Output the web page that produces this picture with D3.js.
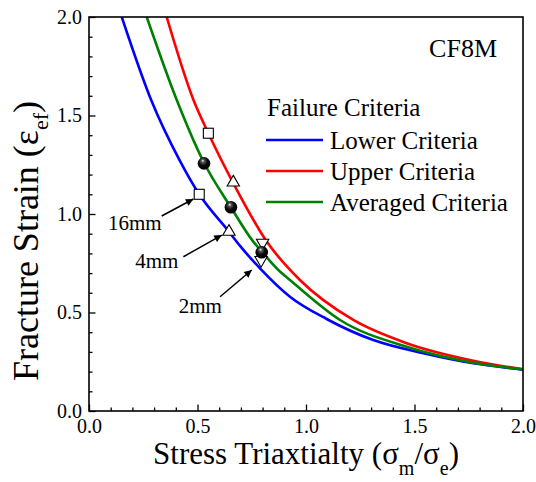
<!DOCTYPE html>
<html>
<head>
<meta charset="utf-8">
<script src="https://cdn.jsdelivr.net/npm/d3@7"></script>
<style>
  body { margin: 0; background: #fff; }
  svg text { font-family: "Liberation Serif", "Times New Roman", serif; fill: #000; }
</style>
</head>
<body>
<div id="chart"></div>
<script>
// curves: [stress triaxiality, fracture strain]
var lowerCriteria = [
  [0.151, 2.00], [0.286, 1.58], [0.419, 1.27], [0.508, 1.10], [0.645, 0.91],
  [0.696, 0.838], [0.788, 0.724], [0.926, 0.58], [1.095, 0.467], [1.31, 0.36],
  [1.541, 0.293], [1.771, 0.242], [2.0, 0.21]
];
var upperCriteria = [
  [0.358, 2.00], [0.481, 1.58], [0.55, 1.41], [0.673, 1.14], [0.819, 0.86],
  [0.972, 0.665], [1.218, 0.462], [1.464, 0.344], [1.771, 0.255], [2.0, 0.212]
];
var averagedCriteria = [
  [0.266, 2.00], [0.404, 1.58], [0.53, 1.26], [0.654, 1.034], [0.757, 0.86],
  [0.796, 0.81], [0.88, 0.708], [0.926, 0.665], [1.157, 0.462], [1.464, 0.326],
  [1.771, 0.245], [2.0, 0.211]
];

// test points
var squarePoints = [[0.550, 1.41], [0.508, 1.10]];
var upTrianglePoints = [[0.665, 1.16], [0.645, 0.91]];
var downTrianglePoints = [[0.800, 0.854], [0.793, 0.766]];
var spherePoints = [[0.530, 1.257], [0.654, 1.034], [0.796, 0.806]];

// notch labels: text corner and arrow, in data units
var notchLabels = [
  { text: "16mm", at: [0.335, 0.919], from: [0.335, 0.990], to: [0.481, 1.076] },
  { text: "4mm", at: [0.412, 0.724], from: [0.435, 0.783], to: [0.612, 0.893] },
  { text: "2mm", at: [0.612, 0.496], from: [0.604, 0.580], to: [0.750, 0.716] }
];

var seriesNames = ["Lower Criteria", "Upper Criteria", "Averaged Criteria"];
var seriesColors = ["#0000ff", "#ff0000", "#008000"];
var majorTicks = [0, 0.5, 1.0, 1.5, 2.0];

var WIDTH = 536, HEIGHT = 482;
var plotLeft = 89, plotRight = 523, plotTop = 17, plotBottom = 411;

var svg = d3.select("#chart").append("svg")
    .attr("width", WIDTH)
    .attr("height", HEIGHT);

var x = d3.scaleLinear().domain([0, 2]).range([plotLeft, plotRight]);
var y = d3.scaleLinear().domain([0, 2]).range([plotBottom, plotTop]);

var defs = svg.append("defs");
defs.append("clipPath").attr("id", "plot-clip")
  .append("rect")
    .attr("x", plotLeft).attr("y", plotTop)
    .attr("width", plotRight - plotLeft).attr("height", plotBottom - plotTop);

var grad = defs.append("radialGradient")
    .attr("id", "ball")
    .attr("cx", "45%").attr("cy", "40%").attr("r", "60%")
    .attr("fx", "40%").attr("fy", "28%");
grad.append("stop").attr("offset", "0%").attr("stop-color", "#eeeeee");
grad.append("stop").attr("offset", "22%").attr("stop-color", "#555");
grad.append("stop").attr("offset", "55%").attr("stop-color", "#0a0a0a");
grad.append("stop").attr("offset", "100%").attr("stop-color", "#000");

defs.append("marker")
    .attr("id", "arrow")
    .attr("viewBox", "0 0 10 10")
    .attr("refX", 10).attr("refY", 5)
    .attr("markerWidth", 6).attr("markerHeight", 5)
    .attr("markerUnits", "strokeWidth")
    .attr("orient", "auto")
  .append("path")
    .attr("d", "M0,0 L10,5 L0,10 Z")
    .attr("fill", "#000");

// axes: ticks point inward, minor every 0.1
var minorTicks = d3.range(0, 2.001, 0.1).filter(function (v) {
  return majorTicks.indexOf(Math.round(v * 10) / 10) < 0;
});

function styleAxis(g) {
  g.select(".domain").remove();
  g.selectAll(".tick line").attr("stroke", "#000").attr("stroke-width", 1.3);
  g.selectAll(".tick text").style("font-size", "20px");
}

svg.append("g")
    .attr("transform", "translate(0," + plotBottom + ")")
    .call(d3.axisBottom(x).tickValues(minorTicks).tickSize(-3.5).tickFormat(""))
    .call(styleAxis);
svg.append("g")
    .attr("transform", "translate(0," + plotBottom + ")")
    .call(d3.axisBottom(x).tickValues(majorTicks).tickSize(-6.5).tickPadding(8).tickFormat(d3.format(".1f")))
    .call(styleAxis);
svg.append("g")
    .attr("transform", "translate(" + plotLeft + ",0)")
    .call(d3.axisLeft(y).tickValues(minorTicks).tickSize(-3.5).tickFormat(""))
    .call(styleAxis);
svg.append("g")
    .attr("transform", "translate(" + plotLeft + ",0)")
    .call(d3.axisLeft(y).tickValues(majorTicks).tickSize(-6.5).tickPadding(7).tickFormat(d3.format(".1f")))
    .call(styleAxis);

// curves
var line = d3.line()
    .x(function (d) { return x(d[0]); })
    .y(function (d) { return y(d[1]); })
    .curve(d3.curveMonotoneX);

var curves = [lowerCriteria, upperCriteria, averagedCriteria];
svg.append("g").attr("clip-path", "url(#plot-clip)")
  .selectAll("path")
  .data(curves)
  .enter().append("path")
    .attr("d", line)
    .attr("fill", "none")
    .attr("stroke", function (d, i) { return seriesColors[i]; })
    .attr("stroke-width", 2.6);

// markers
var marks = svg.append("g");
marks.selectAll(".sq").data(squarePoints).enter().append("rect")
    .attr("x", function (d) { return x(d[0]) - 5; })
    .attr("y", function (d) { return y(d[1]) - 5; })
    .attr("width", 10).attr("height", 10)
    .attr("fill", "#fff").attr("stroke", "#000").attr("stroke-width", 1.1);

var tri = d3.symbol().type(d3.symbolTriangle).size(66);
marks.selectAll(".up").data(upTrianglePoints).enter().append("path")
    .attr("d", tri)
    .attr("transform", function (d) { return "translate(" + x(d[0]) + "," + y(d[1]) + ")"; })
    .attr("fill", "#fff").attr("stroke", "#000").attr("stroke-width", 1.1);
marks.selectAll(".down").data(downTrianglePoints).enter().append("path")
    .attr("d", tri)
    .attr("transform", function (d) { return "translate(" + x(d[0]) + "," + y(d[1]) + ") rotate(180)"; })
    .attr("fill", "#fff").attr("stroke", "#000").attr("stroke-width", 1.1);
marks.selectAll(".ball").data(spherePoints).enter().append("circle")
    .attr("cx", function (d) { return x(d[0]); })
    .attr("cy", function (d) { return y(d[1]); })
    .attr("r", 6.3)
    .attr("fill", "url(#ball)");

// notch annotations
var notes = svg.append("g");
notes.selectAll("line").data(notchLabels).enter().append("line")
    .attr("x1", function (d) { return x(d.from[0]); })
    .attr("y1", function (d) { return y(d.from[1]); })
    .attr("x2", function (d) { return x(d.to[0]); })
    .attr("y2", function (d) { return y(d.to[1]); })
    .attr("stroke", "#000").attr("stroke-width", 1.5)
    .attr("marker-end", "url(#arrow)");
notes.selectAll("text").data(notchLabels).enter().append("text")
    .attr("x", function (d) { return x(d.at[0]); })
    .attr("y", function (d) { return y(d.at[1]); })
    .attr("text-anchor", "end")
    .style("font-size", "21px")
    .text(function (d) { return d.text; });

// frame
svg.append("rect")
    .attr("x", plotLeft).attr("y", plotTop)
    .attr("width", plotRight - plotLeft).attr("height", plotBottom - plotTop)
    .attr("fill", "none").attr("stroke", "#000").attr("stroke-width", 1.6);

svg.append("text")
    .attr("x", 497).attr("y", 57)
    .attr("text-anchor", "end")
    .style("font-size", "26px")
    .text("CF8M");

// legend
var legend = svg.append("g").attr("transform", "translate(266,116)");
legend.append("text")
    .attr("x", 1).attr("y", 0)
    .style("font-size", "25px")
    .text("Failure Criteria");
var item = legend.selectAll(".item").data(seriesNames).enter().append("g")
    .attr("transform", function (d, i) { return "translate(0," + (24 + i * 31) + ")"; });
item.append("line")
    .attr("x1", 0).attr("x2", 57)
    .attr("stroke", function (d, i) { return seriesColors[i]; })
    .attr("stroke-width", 2.6);
item.append("text")
    .attr("x", 64).attr("y", 8.5)
    .style("font-size", "25px")
    .text(function (d) { return d; });

// axis titles
var xt = svg.append("text")
    .attr("x", (plotLeft + plotRight) / 2).attr("y", 464)
    .attr("text-anchor", "middle")
    .style("font-size", "31px");
xt.append("tspan").text("Stress Triaxtialty (\u03c3");
xt.append("tspan").attr("dy", 11).style("font-size", "20px").text("m");
xt.append("tspan").attr("dy", -11).text("/\u03c3");
xt.append("tspan").attr("dy", 11).style("font-size", "20px").text("e");
xt.append("tspan").attr("dy", -11).text(")");

var yt = svg.append("text")
    .attr("transform", "translate(38,241) rotate(-90)")
    .attr("text-anchor", "middle")
    .style("font-size", "36px");
yt.append("tspan").text("Fracture Strain (\u03b5");
yt.append("tspan").attr("dy", 10).style("font-size", "22px").text("ef");
yt.append("tspan").attr("dy", -10).text(")");
</script>
</body>
</html>
